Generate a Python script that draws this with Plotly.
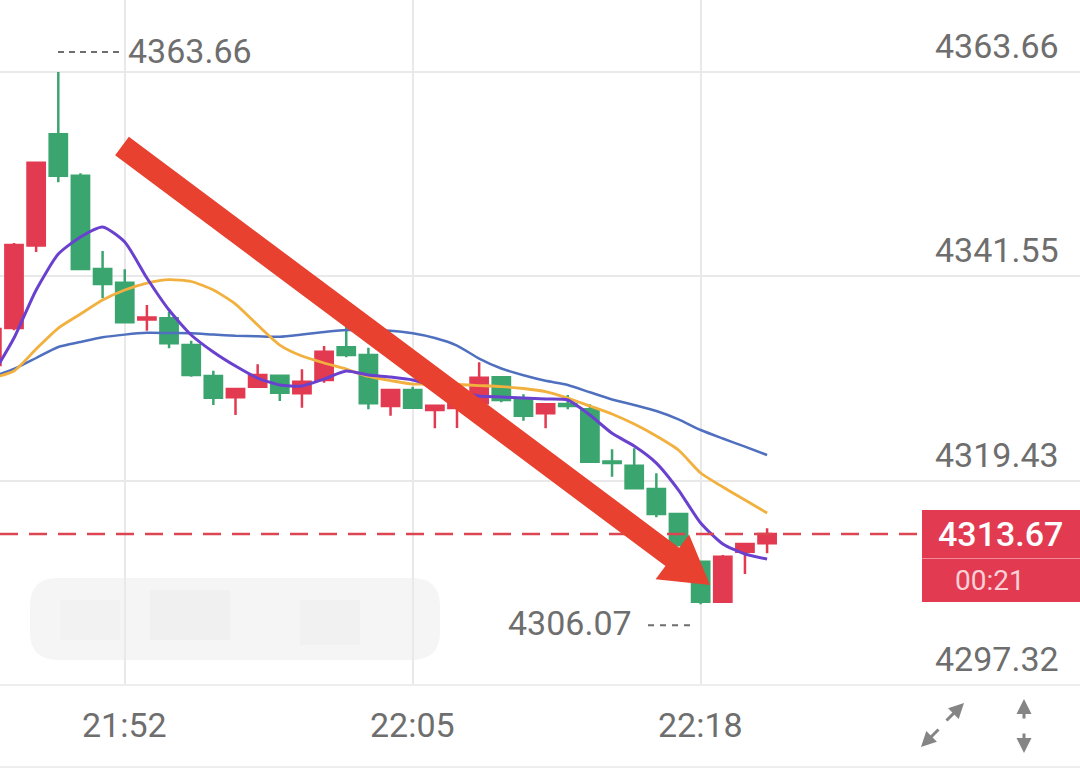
import math
import plotly.graph_objects as go

# ---------------- data ----------------
times = ["21:46", "21:47", "21:48", "21:49", "21:50", "21:51", "21:52", "21:53", "21:54",
         "21:55", "21:56", "21:57", "21:58", "21:59", "22:00", "22:01", "22:02", "22:03",
         "22:04", "22:05", "22:06", "22:07", "22:08", "22:09", "22:10", "22:11", "22:12",
         "22:13", "22:14", "22:15", "22:16", "22:17", "22:18", "22:19", "22:20", "22:21"]
opens = [4331.95, 4335.95, 4344.88, 4356.92, 4352.44, 4342.34, 4340.86, 4336.87, 4337.00,
         4334.11, 4330.76, 4328.45, 4329.60, 4330.79, 4328.89, 4330.33, 4333.87, 4333.03,
         4327.51, 4329.24, 4327.08, 4327.30, 4327.80, 4330.62, 4328.24, 4326.72, 4327.73,
         4327.16, 4321.51, 4321.05, 4318.53, 4315.83, 4310.66, 4306.33, 4311.74, 4312.65]
highs = [4335.90, 4345.15, 4353.90, 4363.66, 4352.70, 4344.29, 4342.31, 4338.44, 4337.72,
         4334.58, 4331.33, 4329.35, 4332.03, 4330.79, 4331.48, 4334.01, 4336.17, 4333.82,
         4329.24, 4329.60, 4327.55, 4327.73, 4332.24, 4330.62, 4328.78, 4327.70, 4328.70,
         4327.70, 4322.83, 4322.93, 4320.23, 4315.90, 4310.80, 4311.39, 4312.66, 4314.28]
lows = [4331.80, 4335.70, 4344.18, 4351.72, 4342.30, 4339.17, 4336.50, 4335.66, 4333.76,
        4330.69, 4327.62, 4326.54, 4329.60, 4328.05, 4327.33, 4330.03, 4332.79, 4327.16,
        4326.46, 4327.33, 4325.10, 4325.13, 4327.80, 4327.91, 4325.92, 4325.10, 4327.16,
        4321.49, 4319.86, 4318.50, 4315.47, 4312.30, 4306.07, 4306.23, 4309.33, 4311.57]
closes = [4335.84, 4344.94, 4353.84, 4352.44, 4342.34, 4340.72, 4336.57, 4337.09, 4334.30,
          4330.87, 4328.41, 4329.35, 4330.87, 4328.95, 4330.14, 4333.39, 4333.03, 4327.80,
          4329.24, 4327.33, 4327.55, 4327.73, 4330.57, 4328.16, 4326.46, 4327.70, 4327.51,
          4321.49, 4321.35, 4318.61, 4315.83, 4312.47, 4306.33, 4311.21, 4312.58, 4313.67]
ma_short = [4330.76, 4334.87, 4340.07, 4343.96, 4345.80, 4346.89, 4345.26, 4341.37, 4337.90,
            4335.20, 4333.36, 4331.84, 4330.54, 4329.79, 4329.68, 4330.43, 4331.30, 4330.87,
            4330.65, 4330.33, 4329.68, 4329.03, 4328.60, 4328.49, 4328.38, 4328.27, 4328.16,
            4326.54, 4324.56, 4323.18, 4321.34, 4318.42, 4314.85, 4312.58, 4311.50, 4310.95]
ma_mid = [4330.54, 4331.30, 4333.68, 4335.95, 4337.47, 4338.98, 4340.07, 4340.82, 4341.20,
          4340.99, 4340.07, 4338.55, 4336.28, 4334.11, 4332.92, 4332.17, 4331.52, 4330.71,
          4330.27, 4329.89, 4329.89, 4329.84, 4329.73, 4329.62, 4329.41, 4329.08, 4328.38,
          4327.51, 4326.65, 4325.56, 4324.27, 4322.75, 4320.26, 4318.75, 4317.34, 4315.93]
ma_long = [4330.65, 4331.52, 4332.71, 4333.90, 4334.44, 4334.95, 4335.24, 4335.43, 4335.41,
           4335.39, 4335.25, 4335.12, 4335.06, 4335.01, 4335.25, 4335.52, 4335.74, 4335.71,
           4335.66, 4335.38, 4334.87, 4334.06, 4332.65, 4331.57, 4330.84, 4330.24, 4329.79,
           4329.00, 4328.22, 4327.62, 4326.97, 4326.07, 4324.92, 4324.00, 4323.11, 4322.21]
y_ticks = [4363.66, 4341.55, 4319.43, 4297.32]
x_tick_labels = ["21:52", "22:05", "22:18"]
last_price = 4313.67
countdown = "00:21"
high_mark = 4363.66
low_mark = 4306.07

# ---------------- geometry ----------------
W, H = 1080, 775
PLOT_H = 685
STEP_PX = 22.15          # pixels per candle
FIRST_PX = -8.15         # pixel x of first candle
PPU = 9.24               # pixels per price unit
Y_MIN = y_ticks[-1]
Y_MAX = Y_MIN + PLOT_H / PPU

xs = list(range(len(times)))
x_range = [-FIRST_PX / STEP_PX, (W - FIRST_PX) / STEP_PX]


def pxx(px):
    return px / W


def pxy(py):
    return (PLOT_H - py) / PLOT_H


def price_to_py(v):
    return (Y_MAX - v) * PPU


RED = "#e23a51"
GREEN = "#3ba56f"
GREY = "#6e6e6e"
GRID = "#e9e9e9"
FONT = "Roboto, Liberation Sans, sans-serif"
FS = 34

fig = go.Figure()

fig.add_trace(go.Candlestick(
    x=xs, open=opens, high=highs, low=lows, close=closes,
    increasing=dict(line=dict(color=RED, width=2.5), fillcolor=RED),
    decreasing=dict(line=dict(color=GREEN, width=2.5), fillcolor=GREEN),
    whiskerwidth=0, showlegend=False, hoverinfo="skip"))

for vals, col, w in [(ma_long, "#4f6fbf", 2.5), (ma_mid, "#f2b03e", 2.8), (ma_short, "#6a41cf", 3)]:
    fig.add_trace(go.Scatter(x=xs, y=vals, mode="lines",
                             line=dict(color=col, width=w, shape="spline", smoothing=0.6),
                             showlegend=False, hoverinfo="skip"))

shapes = []
shapes.append(dict(type="line", xref="paper", yref="paper", x0=0, x1=1, y0=0, y1=0,
                   line=dict(color=GRID, width=1.5), layer="below"))
shapes.append(dict(type="line", xref="paper", yref="paper", x0=0, x1=1,
                   y0=pxy(767), y1=pxy(767), line=dict(color=GRID, width=1.5)))

# blurred watermark
x0, x1, y0, y1, r = 30, 440, 578, 660, 28
path = (f"M {pxx(x0 + r)},{pxy(y0)} L {pxx(x1 - r)},{pxy(y0)} "
        f"Q {pxx(x1)},{pxy(y0)} {pxx(x1)},{pxy(y0 + r)} L {pxx(x1)},{pxy(y1 - r)} "
        f"Q {pxx(x1)},{pxy(y1)} {pxx(x1 - r)},{pxy(y1)} L {pxx(x0 + r)},{pxy(y1)} "
        f"Q {pxx(x0)},{pxy(y1)} {pxx(x0)},{pxy(y1 - r)} L {pxx(x0)},{pxy(y0 + r)} "
        f"Q {pxx(x0)},{pxy(y0)} {pxx(x0 + r)},{pxy(y0)} Z")
shapes.append(dict(type="path", xref="paper", yref="paper", path=path,
                   fillcolor="#f5f5f5", line=dict(width=0), layer="below"))
for bx0, by0, bx1, by1, c in [(150, 590, 230, 640, "#f0f0f0"), (300, 600, 360, 645, "#f1f1f1"),
                              (60, 600, 120, 640, "#f2f2f2")]:
    shapes.append(dict(type="rect", xref="paper", yref="paper", x0=pxx(bx0), x1=pxx(bx1),
                       y0=pxy(by1), y1=pxy(by0), fillcolor=c, line=dict(width=0), layer="below"))

# current price dashed line
shapes.append(dict(type="line", xref="paper", yref="y", x0=0, x1=pxx(922),
                   y0=last_price, y1=last_price,
                   line=dict(color="#dc4552", width=2.5, dash="18px,11px"), layer="above"))

# high / low dotted markers
hy = price_to_py(high_mark) - 20
shapes.append(dict(type="line", xref="paper", yref="paper", x0=pxx(58), x1=pxx(122),
                   y0=pxy(hy), y1=pxy(hy), line=dict(color=GREY, width=2, dash="6px,5px")))
ly = price_to_py(low_mark) + 21
shapes.append(dict(type="line", xref="paper", yref="paper", x0=pxx(648), x1=pxx(696),
                   y0=pxy(ly), y1=pxy(ly), line=dict(color=GREY, width=2, dash="6px,6px")))

# price box
shapes.append(dict(type="rect", xref="paper", yref="paper", x0=pxx(922), x1=1.0,
                   y0=pxy(602), y1=pxy(510), fillcolor="#e23b51", line=dict(width=0)))
shapes.append(dict(type="line", xref="paper", yref="paper", x0=pxx(922), x1=1.0,
                   y0=pxy(558.5), y1=pxy(558.5), line=dict(color="#f08a98", width=1)))

# big red arrow
sx, sy = 122, 146
tx, ty = 710, 585
L = math.hypot(tx - sx, ty - sy)
dx, dy = (tx - sx) / L, (ty - sy) / L
nx, ny = -dy, dx
sw, hl, hw = 11.5, 47, 28
bx, by = tx - hl * dx, ty - hl * dy
pts = [(sx + sw * nx, sy + sw * ny), (bx + sw * nx, by + sw * ny), (bx + hw * nx, by + hw * ny),
       (tx, ty), (bx - hw * nx, by - hw * ny), (bx - sw * nx, by - sw * ny),
       (sx - sw * nx, sy - sw * ny)]
apath = "M " + " L ".join(f"{pxx(p[0])},{pxy(p[1])}" for p in pts) + " Z"
shapes.append(dict(type="path", xref="paper", yref="paper", path=apath,
                   fillcolor="#e8412f", line=dict(width=0), layer="above"))

annotations = []
for v in y_ticks:
    annotations.append(dict(x=pxx(1061), xref="paper", y=v, yref="y", yshift=26,
                            text=f"{v:.2f}", showarrow=False, xanchor="right", yanchor="middle",
                            font=dict(family=FONT, size=FS, color=GREY)))
for lbl in x_tick_labels:
    annotations.append(dict(x=times.index(lbl), xref="x", y=pxy(725), yref="paper",
                            text=lbl, showarrow=False, xanchor="center", yanchor="middle",
                            font=dict(family=FONT, size=FS, color=GREY)))
annotations.append(dict(x=pxx(126), xref="paper", y=pxy(hy - 1), yref="paper",
                        text=f"{high_mark:.2f}", showarrow=False, xanchor="left", yanchor="middle",
                        font=dict(family=FONT, size=FS, color=GREY)))
annotations.append(dict(x=pxx(634), xref="paper", y=pxy(ly - 2), yref="paper",
                        text=f"{low_mark:.2f}", showarrow=False, xanchor="right", yanchor="middle",
                        font=dict(family=FONT, size=FS, color=GREY)))
annotations.append(dict(x=pxx(1000), xref="paper", y=pxy(534), yref="paper",
                        text=f"{last_price:.2f}", showarrow=False, xanchor="center", yanchor="middle",
                        font=dict(family=FONT, size=FS, color="white", weight=500)))
annotations.append(dict(x=pxx(990), xref="paper", y=pxy(580), yref="paper",
                        text=countdown, showarrow=False, xanchor="center", yanchor="middle",
                        font=dict(family=FONT, size=28, color="#fbd0d7")))
# icons
for hx, hy2, ax, ay in [(964, 703, -19, 19), (921, 747, 19, -19), (1024, 699, 0, 21), (1024, 753, 0, -21)]:
    annotations.append(dict(x=pxx(hx), xref="paper", y=pxy(hy2), yref="paper", text="",
                            showarrow=True, ax=ax, ay=ay, arrowhead=2, arrowsize=1.0,
                            arrowwidth=3, arrowcolor="#858585"))

fig.update_layout(
    width=W, height=H, margin=dict(l=0, r=0, t=0, b=H - PLOT_H, pad=0),
    paper_bgcolor="white", plot_bgcolor="white",
    boxgap=0.22, boxgroupgap=0,
    xaxis=dict(range=x_range, tickmode="array", tickvals=[times.index(t) for t in x_tick_labels],
               showticklabels=False, showgrid=True, gridcolor=GRID, gridwidth=1.5,
               zeroline=False, rangeslider=dict(visible=False), fixedrange=True),
    yaxis=dict(range=[Y_MIN, Y_MAX], tickmode="array", tickvals=y_ticks, showticklabels=False,
               showgrid=True, gridcolor=GRID, gridwidth=1.5, zeroline=False),
    shapes=shapes, annotations=annotations, showlegend=False,
)

fig.write_html("out.html")
